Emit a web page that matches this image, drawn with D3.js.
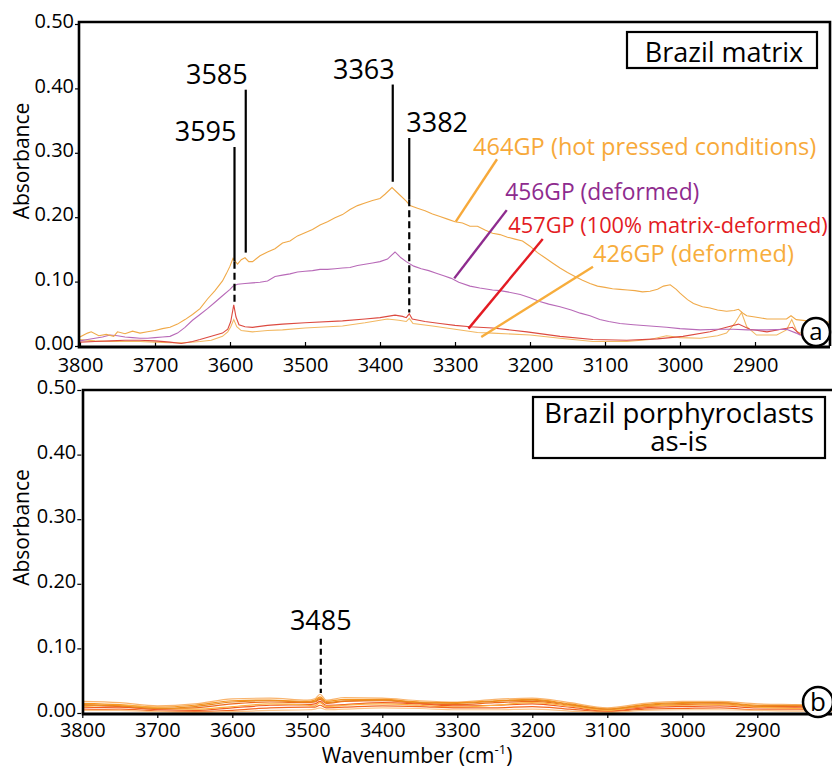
<!DOCTYPE html>
<html><head><meta charset="utf-8">
<script src="https://cdn.jsdelivr.net/npm/d3@7"></script>
<style>
body{margin:0;background:#fff}
text{font-family:"Open Sans",sans-serif}
</style>
</head><body>
<svg id="chart" width="832" height="771"></svg>
<script>
// ---------- data ----------
const xTickValues = [3800,3700,3600,3500,3400,3300,3200,3100,3000,2900];
const yTickValues = [0.00,0.10,0.20,0.30,0.40,0.50];

// Panel (a) : Brazil matrix
const wn464 = [3800,3790,3785,3775,3765,3755,3750,3740,3730,3720,3710,3700,3690,3680,3670,3660,3650,3640,3630,3620,3610,3605,3600,3596,3590,3585,3580,3575,3570,3560,3550,3540,3530,3520,3510,3500,3490,3480,3470,3460,3450,3440,3430,3420,3410,3400,3393,3384,3375,3365,3360,3350,3340,3330,3320,3310,3300,3290,3280,3270,3260,3250,3240,3230,3220,3210,3200,3190,3180,3170,3160,3150,3140,3130,3120,3110,3100,3090,3080,3070,3060,3050,3040,3030,3022,3013,3005,3000,2990,2982,2970,2960,2950,2938,2928,2922,2915,2911,2900,2884,2870,2858,2852,2845,2830,2815,2800];
const abs464 = [0.014,0.020,0.022,0.016,0.018,0.015,0.022,0.019,0.023,0.020,0.022,0.024,0.027,0.029,0.034,0.041,0.049,0.058,0.073,0.086,0.101,0.112,0.124,0.136,0.127,0.134,0.137,0.131,0.131,0.140,0.146,0.151,0.160,0.163,0.171,0.176,0.181,0.188,0.193,0.199,0.204,0.212,0.218,0.222,0.226,0.229,0.236,0.246,0.236,0.225,0.218,0.214,0.210,0.205,0.201,0.197,0.193,0.191,0.186,0.186,0.180,0.175,0.173,0.169,0.166,0.163,0.155,0.145,0.137,0.129,0.121,0.114,0.108,0.102,0.097,0.093,0.091,0.089,0.088,0.087,0.086,0.084,0.085,0.088,0.093,0.095,0.088,0.082,0.072,0.066,0.061,0.059,0.056,0.054,0.055,0.057,0.050,0.047,0.045,0.042,0.042,0.042,0.047,0.041,0.039,0.038,0.037];

const wn456 = [3800,3790,3780,3770,3760,3750,3740,3730,3720,3710,3700,3690,3680,3670,3660,3650,3640,3630,3620,3610,3600,3596,3590,3580,3570,3560,3550,3540,3530,3520,3510,3500,3490,3480,3470,3460,3450,3440,3430,3420,3410,3400,3390,3380,3372,3365,3355,3345,3335,3325,3315,3305,3295,3280,3267,3250,3240,3230,3213,3200,3187,3175,3160,3145,3133,3120,3107,3095,3080,3062,3040,3018,3000,2973,2950,2929,2910,2884,2858,2845,2840,2820,2800];
const abs456 = [0.008,0.010,0.012,0.014,0.017,0.016,0.014,0.013,0.012,0.012,0.013,0.014,0.015,0.020,0.029,0.040,0.049,0.058,0.068,0.078,0.088,0.093,0.096,0.097,0.098,0.099,0.101,0.108,0.110,0.112,0.115,0.116,0.117,0.119,0.119,0.120,0.121,0.122,0.125,0.127,0.129,0.131,0.135,0.146,0.137,0.131,0.124,0.120,0.117,0.113,0.109,0.105,0.099,0.093,0.090,0.087,0.086,0.084,0.080,0.075,0.069,0.065,0.061,0.056,0.051,0.047,0.041,0.038,0.035,0.033,0.031,0.029,0.027,0.025,0.026,0.026,0.025,0.025,0.026,0.020,0.017,0.016,0.015];

const wn457 = [3800,3780,3760,3740,3720,3700,3680,3665,3650,3640,3625,3610,3603,3599,3595,3592,3588,3580,3570,3550,3530,3500,3450,3420,3400,3380,3370,3365,3361,3357,3340,3320,3300,3280,3250,3204,3160,3116,3071,3030,2996,2960,2938,2922,2907,2884,2865,2850,2840,2820,2800];
const abs457 = [0.006,0.007,0.008,0.009,0.009,0.008,0.006,0.004,0.007,0.010,0.015,0.020,0.026,0.038,0.064,0.045,0.033,0.030,0.029,0.032,0.034,0.036,0.039,0.042,0.044,0.048,0.046,0.044,0.050,0.042,0.038,0.035,0.032,0.030,0.028,0.022,0.015,0.010,0.009,0.011,0.015,0.022,0.029,0.034,0.026,0.022,0.026,0.029,0.018,0.012,0.010];

const wn426 = [3800,3780,3760,3740,3720,3700,3680,3660,3640,3625,3610,3603,3599,3595,3591,3585,3570,3550,3530,3500,3450,3420,3390,3375,3365,3361,3356,3330,3300,3270,3250,3200,3160,3116,3071,3040,3018,3000,2973,2950,2938,2927,2918,2911,2898,2871,2858,2851,2844,2825,2800];
const abs426 = [0.010,0.008,0.007,0.007,0.007,0.006,0.005,0.005,0.007,0.009,0.015,0.022,0.030,0.041,0.030,0.024,0.022,0.024,0.025,0.028,0.031,0.036,0.042,0.040,0.038,0.043,0.035,0.031,0.026,0.021,0.020,0.017,0.012,0.007,0.007,0.010,0.016,0.013,0.012,0.016,0.020,0.035,0.052,0.030,0.017,0.017,0.025,0.041,0.022,0.014,0.012];

const seriesA = [
  {name:"464GP (hot pressed conditions)", wn:wn464, abs:abs464, line:"#F0A948", text:"#F7A93A", size:23.6},
  {name:"456GP (deformed)",               wn:wn456, abs:abs456, line:"#B86AB8", text:"#8E2B8E", size:22.8},
  {name:"457GP (100% matrix-deformed)",   wn:wn457, abs:abs457, line:"#DC4A40", text:"#E31B23", size:21.8},
  {name:"426GP (deformed)",               wn:wn426, abs:abs426, line:"#F2B862", text:"#F7AD3C", size:23.6}
];
const legendAnchors = [[3276,0.297],[3233,0.227],[3229,0.175],[3116,0.130]];
const leaderStart   = [[3244,0.290],[3231,0.211],[3183,0.166],[3116,0.123]];
const leaderEnd     = [[3299,0.193],[3301,0.105],[3282,0.027],[3265,0.014]];

const peaksA = [
  {label:"3595", wn:3594, top:0.309, solidEnd:0.131, dashEnd:0.064, anchor:"end"},
  {label:"3585", wn:3579, top:0.398, solidEnd:0.145, dashEnd:null,  anchor:"end"},
  {label:"3363", wn:3383, top:0.406, solidEnd:0.255, dashEnd:null,  anchor:"end"},
  {label:"3382", wn:3361, top:0.323, solidEnd:0.228, dashEnd:0.052, anchor:"start"}
];

// Panel (b) : Brazil porphyroclasts as-is
const wnB = [3800,3750,3700,3650,3600,3550,3500,3490,3483,3475,3450,3400,3350,3300,3250,3200,3150,3100,3050,3000,2950,2900,2850,2800];
const absB1 = [0.018,0.016,0.011,0.014,0.022,0.023,0.020,0.022,0.029,0.020,0.024,0.023,0.019,0.017,0.021,0.023,0.016,0.008,0.015,0.018,0.018,0.014,0.013,0.012];
const absB2 = [0.015,0.013,0.009,0.012,0.019,0.020,0.018,0.020,0.025,0.018,0.021,0.021,0.017,0.016,0.019,0.021,0.014,0.006,0.013,0.016,0.016,0.012,0.011,0.010];
const absB3 = [0.012,0.010,0.006,0.008,0.014,0.017,0.016,0.017,0.021,0.015,0.018,0.019,0.015,0.013,0.016,0.018,0.012,0.005,0.010,0.013,0.014,0.010,0.010,0.009];
const absB4 = [0.008,0.009,0.005,0.004,0.008,0.012,0.013,0.014,0.018,0.012,0.013,0.016,0.014,0.011,0.012,0.014,0.009,0.003,0.008,0.010,0.011,0.008,0.008,0.007];
const absB5 = [0.010,0.012,0.008,0.006,0.010,0.014,0.012,0.011,0.016,0.010,0.012,0.014,0.012,0.009,0.012,0.016,0.011,0.004,0.011,0.012,0.013,0.009,0.007,0.006];
const absB6 = [0.005,0.006,0.003,0.002,0.004,0.008,0.009,0.009,0.012,0.008,0.009,0.011,0.010,0.008,0.008,0.010,0.006,0.002,0.006,0.007,0.008,0.005,0.005,0.005];
const absB7 = [0.004,0.004,0.002,0.001,0.002,0.004,0.005,0.006,0.008,0.005,0.006,0.008,0.007,0.005,0.005,0.006,0.003,0.001,0.004,0.005,0.005,0.004,0.003,0.003];
const absB8 = [0.013,0.011,0.007,0.010,0.017,0.019,0.017,0.018,0.023,0.016,0.019,0.020,0.016,0.015,0.018,0.020,0.013,0.006,0.012,0.015,0.016,0.011,0.012,0.011];
const seriesB = [
  {abs:absB1, line:"#F9B46E"},{abs:absB2, line:"#F7941D"},{abs:absB3, line:"#EE6A1E"},{abs:absB4, line:"#F15A22"},
  {abs:absB5, line:"#FBB040"},{abs:absB6, line:"#F26522"},{abs:absB7, line:"#FDC689"},{abs:absB8, line:"#E8881E"}
];
const peaksB = [{label:"3485", wn:3482, top:0.115, dashEnd:0.031}];

// ---------- drawing ----------
const svg = d3.select("#chart");

function panel(cfg){
  const g = svg.append("g");
  const x = d3.scaleLinear().domain([3800,2800]).range(cfg.xr);
  const y = d3.scaleLinear().domain([0,0.5]).range(cfg.yr);
  const clipId = "clip"+cfg.id;
  g.append("clipPath").attr("id",clipId).append("rect")
    .attr("x",cfg.xr[0]).attr("y",cfg.frameTop).attr("width",cfg.frameRight-cfg.xr[0]).attr("height",cfg.yr[0]-cfg.frameTop);

  const xa = g.append("g").attr("transform",`translate(0,${cfg.yr[0]})`)
    .call(d3.axisBottom(x).tickValues(xTickValues).tickFormat(d3.format("d")).tickSize(cfg.xTickSize).tickPadding(cfg.xPad));
  xa.select(".domain").remove();
  xa.selectAll("line").attr("stroke","#000").attr("stroke-width",1.2);
  xa.selectAll("text").attr("font-size",20).attr("fill","#000").attr("font-family","Open Sans");
  const ya = g.append("g").attr("transform",`translate(${cfg.xr[0]-1},0)`)
    .call(d3.axisLeft(y).tickValues(yTickValues).tickFormat(d3.format(".2f")).tickSize(4).tickPadding(1));
  ya.select(".domain").remove();
  ya.selectAll("line").attr("stroke","#000").attr("stroke-width",1.2);
  ya.selectAll("text").attr("font-size",20).attr("fill","#000").attr("font-family","Open Sans").attr("dy","0.18em");

  g.append("text").attr("transform",`translate(${cfg.yTitleX},${(cfg.yr[0]+cfg.yr[1])/2-24}) rotate(-90)`)
    .attr("text-anchor","middle").attr("dy","0.35em").attr("font-size",21).text("Absorbance");

  const plot = g.append("g").attr("clip-path",`url(#${clipId})`);
  return {g,x,y,plot};
}

// panel a
const A = panel({id:"a", xr:[80,830], yr:[346,24], frameTop:22, frameRight:830, xTickSize:-4, xPad:12, yTitleX:22});
const lineA = d3.line().x(d=>A.x(d[0])).y(d=>A.y(d[1]));
seriesA.slice().reverse().forEach(s=>{
  A.plot.append("path").datum(s.wn.map((w,i)=>[w,s.abs[i]]))
   .attr("d",lineA).attr("fill","none").attr("stroke",s.line).attr("stroke-width",1.1);
});
A.g.append("path").attr("d",`M79,346 V22 H830 V346`).attr("fill","none").attr("stroke","#000").attr("stroke-width",2.6);
A.g.append("line").attr("x1",77.7).attr("x2",830).attr("y1",347).attr("y2",347).attr("stroke","#000").attr("stroke-width",3);

peaksA.forEach(p=>{
  const px = A.x(p.wn);
  A.g.append("line").attr("x1",px).attr("x2",px).attr("y1",A.y(p.top)).attr("y2",A.y(p.solidEnd))
    .attr("stroke","#000").attr("stroke-width",2.2);
  if(p.dashEnd!==null){
    A.g.append("line").attr("x1",px).attr("x2",px).attr("y1",A.y(p.solidEnd)).attr("y2",A.y(p.dashEnd))
      .attr("stroke","#000").attr("stroke-width",2.2).attr("stroke-dasharray","7,4");
  }
  A.g.append("text").attr("x",p.anchor==="end"?px+2:px-3).attr("y",A.y(p.top)-6)
    .attr("text-anchor",p.anchor).attr("font-size",27).text(p.label);
});

seriesA.forEach((s,i)=>{
  A.g.append("line").attr("x1",A.x(leaderStart[i][0])).attr("y1",A.y(leaderStart[i][1]))
    .attr("x2",A.x(leaderEnd[i][0])).attr("y2",A.y(leaderEnd[i][1]))
    .attr("stroke",s.text).attr("stroke-width",2.4);
  A.g.append("text").attr("x",A.x(legendAnchors[i][0])).attr("y",A.y(legendAnchors[i][1]))
    .attr("fill",s.text).attr("font-size",s.size).text(s.name);
});

A.g.append("rect").attr("x",627).attr("y",32).attr("width",190).attr("height",36)
  .attr("fill","#fff").attr("stroke","#000").attr("stroke-width",2.2);
A.g.append("text").attr("x",724).attr("y",62).attr("text-anchor","middle").attr("font-size",27).text("Brazil matrix");
A.g.append("circle").attr("cx",816).attr("cy",332).attr("r",14).attr("fill","#fff").attr("stroke","#000").attr("stroke-width",2.5);
A.g.append("text").attr("x",816).attr("y",332).attr("dy","0.35em").attr("text-anchor","middle").attr("font-size",24).text("a");

// panel b
const B = panel({id:"b", xr:[82.3,832.3], yr:[713,390], frameTop:390, frameRight:834, xTickSize:5, xPad:5, yTitleX:22});
const lineB = d3.line().x(d=>B.x(d[0])).y(d=>B.y(d[1])).curve(d3.curveMonotoneX);
seriesB.forEach(s=>{
  B.plot.append("path").datum(wnB.map((w,i)=>[w,s.abs[i]]))
    .attr("d",lineB).attr("fill","none").attr("stroke",s.line).attr("stroke-width",1.2);
});
B.g.append("path").attr("d",`M83,713 V390 H834`).attr("fill","none").attr("stroke","#000").attr("stroke-width",2.6);
B.g.append("line").attr("x1",81.7).attr("x2",834).attr("y1",714).attr("y2",714).attr("stroke","#000").attr("stroke-width",3);

peaksB.forEach(p=>{
  const px = B.x(p.wn);
  B.g.append("line").attr("x1",px).attr("x2",px).attr("y1",B.y(p.top)).attr("y2",B.y(p.dashEnd))
    .attr("stroke","#000").attr("stroke-width",2.2).attr("stroke-dasharray","6,4");
  B.g.append("text").attr("x",px).attr("y",B.y(p.top)-9).attr("text-anchor","middle").attr("font-size",27).text(p.label);
});

B.g.append("rect").attr("x",533).attr("y",397).attr("width",292).attr("height",61)
  .attr("fill","#fff").attr("stroke","#000").attr("stroke-width",2.2);
const bt = B.g.append("text").attr("text-anchor","middle").attr("font-size",27.5);
bt.append("tspan").attr("x",679).attr("y",423).text("Brazil porphyroclasts");
bt.append("tspan").attr("x",679).attr("y",451).text("as-is");
B.g.append("circle").attr("cx",818).attr("cy",702).attr("r",15).attr("fill","#fff").attr("stroke","#000").attr("stroke-width",2.5);
B.g.append("text").attr("x",818).attr("y",702).attr("dy","0.35em").attr("text-anchor","middle").attr("font-size",26).text("b");

const xt = svg.append("text").attr("x",417).attr("y",763).attr("text-anchor","middle").attr("font-size",21);
xt.append("tspan").text("Wavenumber (cm");
xt.append("tspan").attr("font-size",13).attr("dy",-9).text("-1");
xt.append("tspan").attr("dy",9).text(")");
</script>
</body></html>
